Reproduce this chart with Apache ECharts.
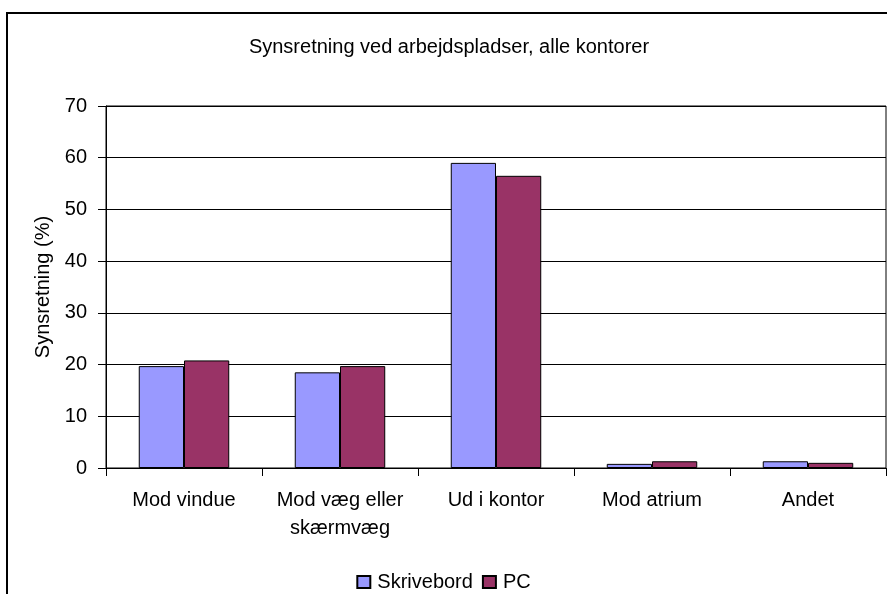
<!DOCTYPE html>
<html>
<head>
<meta charset="utf-8">
<script src="https://cdn.jsdelivr.net/npm/echarts@6/dist/echarts.min.js"></script>
<style>
  html, body { margin: 0; padding: 0; background: #fff; overflow: hidden; }
  #frame { position: absolute; left: 6px; top: 12px; width: 900px; height: 600px; border-left: 2px solid #000; border-top: 2px solid #000; }
  #content { position: absolute; left: 0; top: 0; width: 887px; height: 594px; }
</style>
</head>
<body>
<div id="frame"></div>
<div id="content"></div>
<script>
var categories = ["Mod vindue", "Mod væg eller\nskærmvæg", "Ud i kontor", "Mod atrium", "Andet"];
var skrivebord = [19.7, 18.5, 59.0, 0.8, 1.3];
var pc = [20.8, 19.7, 56.5, 1.3, 1.0];
var yTicks = { min: 0, max: 70, interval: 10 };

var chart = echarts.init(document.getElementById("content"));
var font = "Liberation Sans, Arial, sans-serif";
var option = {
  animation: false,
  textStyle: { fontFamily: font },
  title: {
    text: "Synsretning ved arbejdspladser, alle kontorer",
    left: 444,
    textAlign: "center",
    top: 32,
    textStyle: { fontSize: 20, fontWeight: "normal", color: "#000", fontFamily: font }
  },
  grid: { left: 106, right: 1, top: 106, bottom: 126, show: true, borderColor: "#000", borderWidth: 1 },
  legend: {
    top: 567,
    left: "center",
    itemWidth: 13,
    itemHeight: 12,
    itemGap: 9,
    icon: "rect",
    textStyle: { fontSize: 20, color: "#000", fontFamily: font, padding: [0, 0, 0, 2] },
    data: ["Skrivebord", "PC"]
  },
  xAxis: {
    type: "category",
    data: categories,
    axisLine: { lineStyle: { color: "#000", width: 1 } },
    axisTick: { show: true, length: 8, lineStyle: { color: "#000" } },
    axisLabel: { color: "#000", fontSize: 20, margin: 18, lineHeight: 28, interval: 0 }
  },
  yAxis: {
    type: "value",
    min: yTicks.min,
    max: yTicks.max,
    interval: yTicks.interval,
    name: "Synsretning (%)",
    nameLocation: "middle",
    nameGap: 52,
    nameTextStyle: { fontSize: 20, color: "#000", fontFamily: font },
    axisLine: { show: true, lineStyle: { color: "#000", width: 1 } },
    axisTick: { show: true, length: 8, lineStyle: { color: "#000" } },
    axisLabel: { color: "#000", fontSize: 20, margin: 19 },
    splitLine: { lineStyle: { color: "#000", width: 1 } }
  },
  series: [
    {
      name: "Skrivebord",
      type: "bar",
      data: skrivebord,
      barGap: "0%",
      barCategoryGap: "42%",
      itemStyle: { color: "#9999ff", borderColor: "#000", borderWidth: 1 }
    },
    {
      name: "PC",
      type: "bar",
      data: pc,
      itemStyle: { color: "#993366", borderColor: "#000", borderWidth: 1 }
    }
  ]
};
chart.setOption(option);
</script>
</body>
</html>
